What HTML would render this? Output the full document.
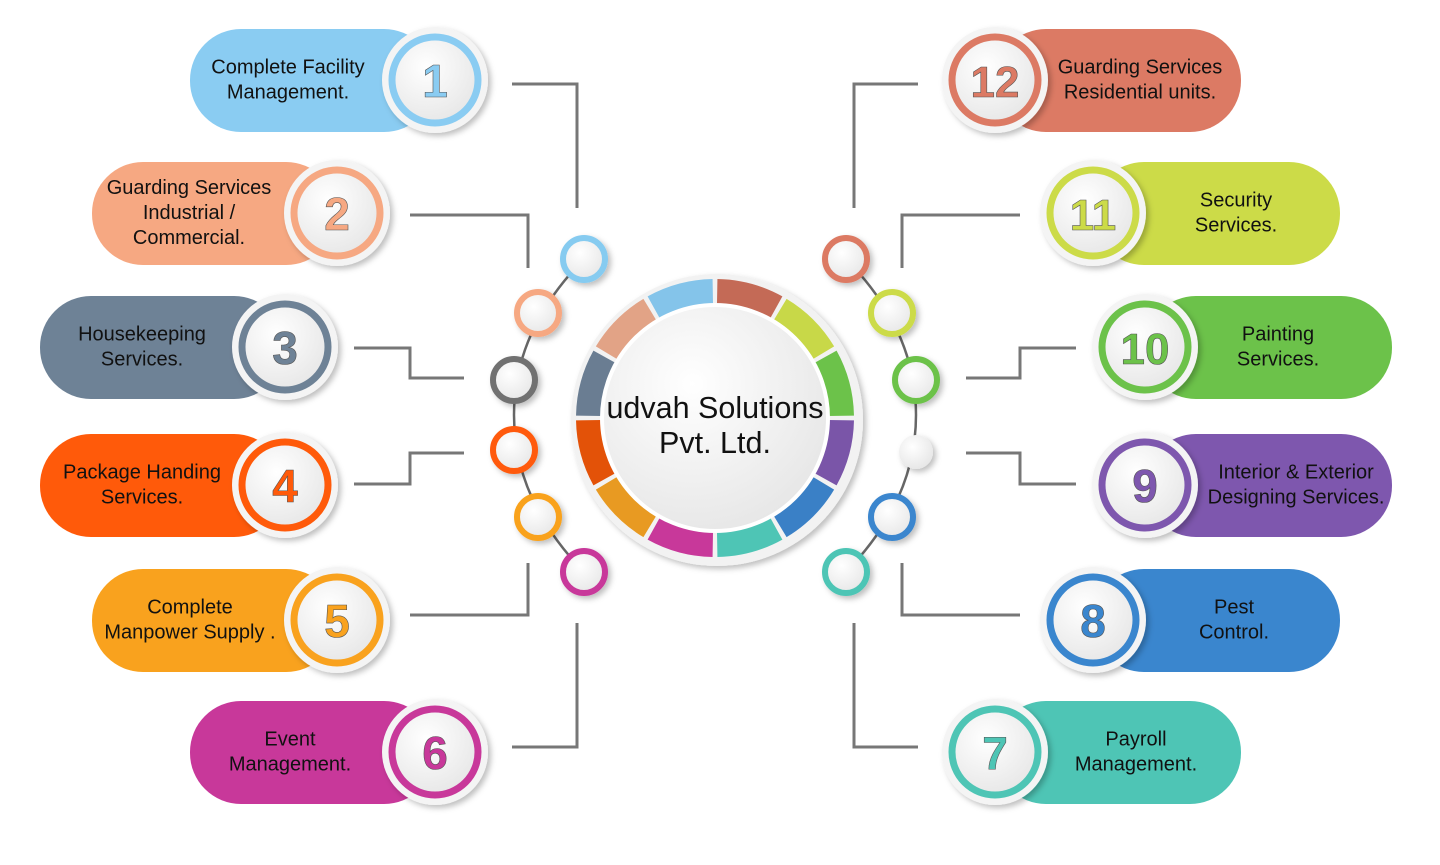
<!DOCTYPE html>
<html><head><meta charset="utf-8"><style>
html,body{margin:0;padding:0;background:#fff;width:1440px;height:865px;overflow:hidden}
text{font-family:"Liberation Sans",sans-serif}
</style></head><body>
<svg width="1440" height="865" viewBox="0 0 1440 865" xmlns="http://www.w3.org/2000/svg">
<defs>
<radialGradient id="g" cx="40%" cy="35%" r="70%"><stop offset="0" stop-color="#ffffff"/><stop offset="1" stop-color="#e6e6e6"/></radialGradient>
<filter id="sh" x="-20%" y="-20%" width="150%" height="150%"><feDropShadow dx="3" dy="3" stdDeviation="3" flood-color="#000" flood-opacity="0.25"/></filter>
</defs>
<g fill="none" stroke="#777" stroke-width="3">
<polyline points="512,84 577,84 577,208"/>
<polyline points="410,215 528,215 528,268"/>
<polyline points="354,348 410,348 410,378 464,378"/>
<polyline points="354,484 410,484 410,453 464,453"/>
<polyline points="410,615 528,615 528,563"/>
<polyline points="512,747 577,747 577,623"/>
<polyline points="918,84 854,84 854,208"/>
<polyline points="1020,215 902,215 902,268"/>
<polyline points="1076,348 1020,348 1020,378 966,378"/>
<polyline points="1076,484 1020,484 1020,453 966,453"/>
<polyline points="1020,615 902,615 902,563"/>
<polyline points="918,747 854,747 854,623"/>
<path d="M584,259 Q514,330 514,415 Q514,500 584,572" stroke="#666" stroke-width="2.5"/>
<path d="M846,259 Q916,330 916,415 Q916,500 846,572" stroke="#666" stroke-width="2.5"/>
</g>
<g stroke-width="6" fill="url(#g)" filter="url(#sh)">
<circle cx="584" cy="259" r="21" stroke="#86CBF0"/>
<circle cx="538" cy="313" r="21" stroke="#F6A882"/>
<circle cx="514" cy="380" r="21" stroke="#717171"/>
<circle cx="514" cy="450" r="21" stroke="#FF5A0A"/>
<circle cx="538" cy="517" r="21" stroke="#F9A21E"/>
<circle cx="584" cy="572" r="21" stroke="#C8389A"/>
<circle cx="846" cy="259" r="21" stroke="#DC7A64"/>
<circle cx="892" cy="313" r="21" stroke="#CCDB48"/>
<circle cx="916" cy="380" r="21" stroke="#6CC24A"/>
<circle cx="916" cy="452" r="17" stroke="none"/>
<circle cx="892" cy="517" r="21" stroke="#3A86CE"/>
<circle cx="846" cy="572" r="21" stroke="#4EC5B5"/>
</g>
<circle cx="717" cy="420" r="146" fill="#f2f2f2" filter="url(#sh)"/>
<g fill="none" stroke-width="26" id="ring"></g>
<circle cx="715" cy="418" r="113" fill="url(#g)" stroke="#fff" stroke-width="4"/>
<text x="715" y="418" font-size="30.5" text-anchor="middle" fill="#111">udvah Solutions</text>
<text x="715" y="453" font-size="30.5" text-anchor="middle" fill="#111">Pvt. Ltd.</text>
<g id="pills"></g>
<script>
var ns="http://www.w3.org/2000/svg";
var cols=["#C46A56","#C8D848","#6CC24A","#7A55A8","#3A80C6","#4EC5B5","#C8389A","#E89A22","#E35208","#6A7D92","#E2A386","#84C4EA"];
var ring=document.getElementById("ring");
var cx=715,cy=418,r=126;
for(var i=0;i<12;i++){var a0=(i*30+1)*Math.PI/180,a1=((i+1)*30-1)*Math.PI/180;
var p=document.createElementNS(ns,"path");
p.setAttribute("d","M"+(cx+r*Math.sin(a0))+","+(cy-r*Math.cos(a0))+" A"+r+","+r+" 0 0 1 "+(cx+r*Math.sin(a1))+","+(cy-r*Math.cos(a1)));
p.setAttribute("stroke",cols[i]);ring.appendChild(p);}
var P=[
[190,80,435,"#8ACCF2","1",["Complete Facility","Management."],288,1],
[92,213,337,"#F6A882","2",["Guarding Services","Industrial /","Commercial."],189,1],
[40,347,285,"#6E8296","3",["Housekeeping","Services."],142,1],
[40,485,285,"#FF5A0A","4",["Package Handing","Services."],142,1],
[92,620,337,"#F9A21E","5",["Complete","Manpower Supply ."],190,1],
[190,752,435,"#C8389A","6",["Event","Management."],290,1],
[1241,80,995,"#DC7A64","12",["Guarding Services","Residential units."],1140,0],
[1340,213,1093,"#CCDB48","11",["Security","Services."],1236,0],
[1392,347,1145,"#6CC24A","10",["Painting","Services."],1278,0],
[1392,485,1145,"#7E57AE","9",["Interior & Exterior","Designing Services."],1296,0],
[1340,620,1093,"#3A86CE","8",["Pest","Control."],1234,0],
[1241,752,995,"#4EC5B5","7",["Payroll","Management."],1136,0]];
var G=document.getElementById("pills");
function el(t,a,par){var e=document.createElementNS(ns,t);for(var k in a)e.setAttribute(k,a[k]);(par||G).appendChild(e);return e;}
P.forEach(function(q){var x=q[0],y=q[1],c=q[2],col=q[3];var h=103,top=y-51;
var x0=q[7]?x:c,x1=q[7]?c:x;
el("rect",{x:x0,y:top,width:x1-x0,height:h,rx:51,fill:col});
el("circle",{cx:c,cy:y,r:53,fill:"#f4f4f4",filter:"url(#sh)"});
el("circle",{cx:c,cy:y,r:43,fill:"url(#g)",stroke:col,"stroke-width":7});
var t=el("text",{x:c,y:y+17,"font-size":q[4].length>1?44:46,"font-weight":"bold","text-anchor":"middle",fill:col,stroke:"#555","stroke-width":0.6});t.textContent=q[4];
var L=q[5],n=L.length,y0=y-(n-1)*12.5+6;
L.forEach(function(s,i){var tt=el("text",{x:q[6],y:y0+i*25,"font-size":20,"text-anchor":"middle",fill:"#111"});tt.textContent=s;});
});
</script>
</svg>
</body></html>
